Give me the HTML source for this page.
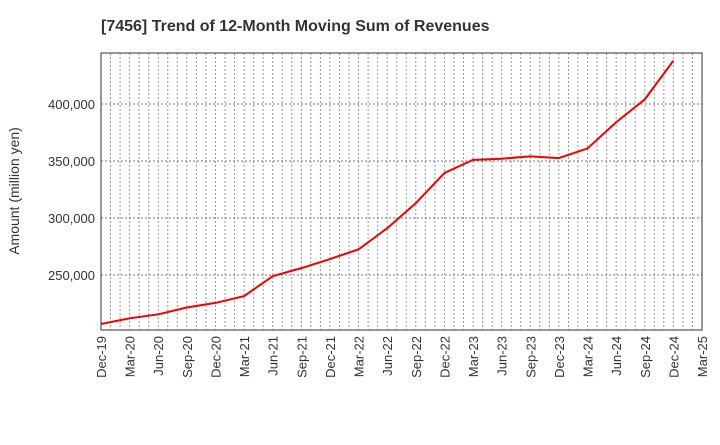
<!DOCTYPE html>
<html><head><meta charset="utf-8"><style>
body{margin:0;background:#fff;font-family:"Liberation Sans",sans-serif;}
</style></head><body>
<svg id="chart" width="720" height="440" xmlns="http://www.w3.org/2000/svg">
<text x="101" y="31" text-anchor="start" font-size="16" font-weight="bold" fill="#333">[7456]  Trend of 12-Month Moving Sum of Revenues</text>
<text transform="translate(19,191) rotate(-90)" text-anchor="middle" font-size="14" fill="#333">Amount (million yen)</text>
<g id="grid"></g><g id="axes"></g><g id="series"></g>
</svg>
<script>
const categories=["Dec-19","Mar-20","Jun-20","Sep-20","Dec-20","Mar-21","Jun-21","Sep-21","Dec-21","Mar-22","Jun-22","Sep-22","Dec-22","Mar-23","Jun-23","Sep-23","Dec-23","Mar-24","Jun-24","Sep-24","Dec-24","Mar-25"];
const revenues=[207000,212000,215500,221500,225500,231500,249000,256000,264000,272500,291000,313000,339500,351000,352000,354000,352500,361000,384000,404000,438000];
const yTicks=[250000,300000,350000,400000];
const yTickLabels=["250,000","300,000","350,000","400,000"];
const NS="http://www.w3.org/2000/svg";
const L=101,R=702,T=53,B=330,yMin=201750,yMax=444700;
const x=i=>L+(R-L)*i/(categories.length-1);
const y=v=>B-(v-yMin)/(yMax-yMin)*(B-T);
function mk(tag,attrs,parent){const e=document.createElementNS(NS,tag);for(const k in attrs)e.setAttribute(k,attrs[k]);parent.appendChild(e);return e;}
const grid=document.getElementById('grid'),axes=document.getElementById('axes'),series=document.getElementById('series');
const nMonths=(categories.length-1)*3;
for(let m=1;m<nMonths;m++){const xx=L+(R-L)*m/nMonths;
const g=mk('line',{x1:xx,x2:xx,y1:T,y2:B,stroke:'#999','stroke-dasharray':'2,2','stroke-width':1},grid);

}
yTicks.forEach((v,i)=>{const yy=y(v);
const g=mk('line',{x1:L,x2:R,y1:yy,y2:yy,stroke:'#777','stroke-dasharray':'2,2','stroke-width':1},grid);


const t=mk('text',{x:L-6,y:yy+5,'text-anchor':'end','font-size':13,fill:'#333'},axes);t.textContent=yTickLabels[i];

});
categories.forEach((c,i)=>{const xx=x(i);
const t=mk('text',{transform:`translate(${xx+5},${B+6}) rotate(-90)`,'text-anchor':'end','font-size':13,fill:'#333'},axes);t.textContent=c;

});
const frame=mk('rect',{x:L,y:T,width:R-L,height:B-T,fill:'none',stroke:'#333','stroke-width':1},axes);


const line=mk('polyline',{points:revenues.map((v,i)=>x(i)+','+y(v)).join(' '),fill:'none',stroke:'#ee0000','stroke-width':2},series);


</script>
</body></html>
